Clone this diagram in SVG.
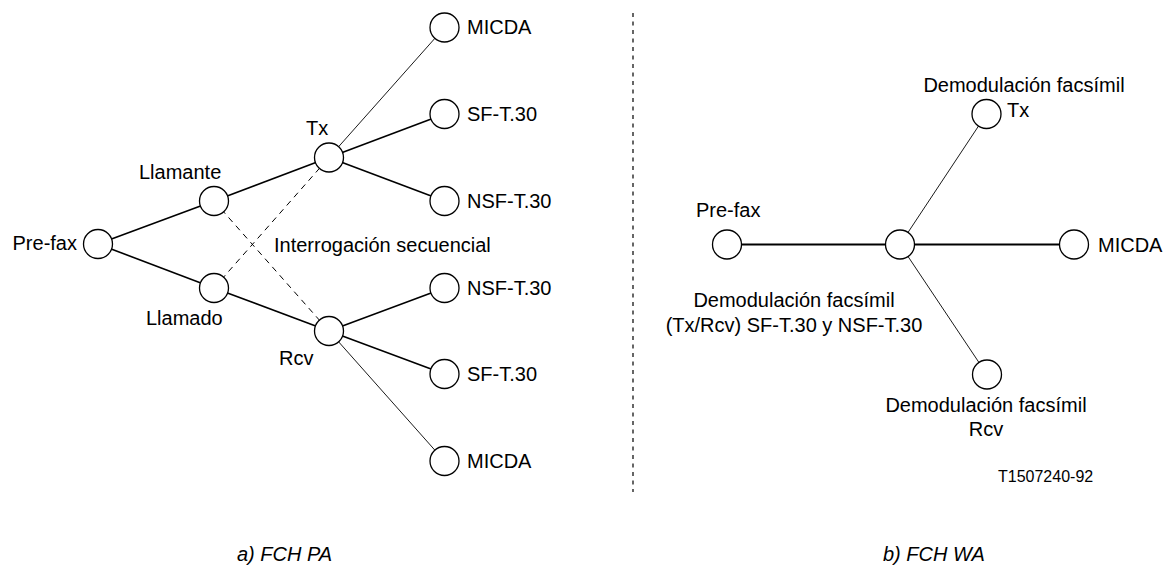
<svg xmlns="http://www.w3.org/2000/svg" width="1168" height="567" viewBox="0 0 1168 567">
<style>
text{font-family:"Liberation Sans",Arial,sans-serif;font-size:20px;fill:#000}
.cap{font-style:italic}
.small{font-size:16px}
.n{fill:#fff;stroke:#000;stroke-width:1.3}
.thick{stroke:#000;stroke-width:1.6;fill:none}
.thin{stroke:#000;stroke-width:0.9;fill:none}
.dash{stroke:#000;stroke-width:1;stroke-dasharray:6 5;fill:none}
.sep{stroke:#000;stroke-width:1.2;stroke-dasharray:4 4.5;fill:none}
</style>
<rect width="1168" height="567" fill="#fff"/>
<g id="connectors">
<line class="thick" x1="98" y1="244" x2="214" y2="201"/>
<line class="thick" x1="98" y1="244" x2="214" y2="288"/>
<line class="thick" x1="214" y1="201" x2="329" y2="157.5"/>
<line class="thick" x1="214" y1="288" x2="329" y2="331"/>
<line class="dash" x1="214" y1="201" x2="329" y2="331"/>
<line class="dash" x1="214" y1="288" x2="329" y2="157.5"/>
<line class="thin" x1="329" y1="157.5" x2="444.5" y2="27.5"/>
<line class="thick" x1="329" y1="157.5" x2="444.5" y2="114"/>
<line class="thick" x1="329" y1="157.5" x2="444.5" y2="201"/>
<line class="thick" x1="329" y1="331" x2="444.5" y2="288"/>
<line class="thick" x1="329" y1="331" x2="444.5" y2="374"/>
<line class="thin" x1="329" y1="331" x2="444.5" y2="461"/>
<line class="sep" x1="633" y1="13" x2="633" y2="492"/>
<line class="thick" x1="727" y1="244.5" x2="900" y2="244.5" style="stroke-width:2"/>
<line class="thick" x1="900" y1="244.5" x2="1074" y2="244.5" style="stroke-width:2"/>
<line class="thin" x1="900" y1="244.5" x2="986.5" y2="114"/>
<line class="thin" x1="900" y1="244.5" x2="987" y2="374.5"/>
</g>
<g id="prefax-a"><circle class="n" cx="98" cy="244" r="14.5"/><text x="77" y="250" text-anchor="end">Pre-fax</text></g>
<g id="llamante"><circle class="n" cx="214" cy="201" r="14.5"/><text x="139" y="179">Llamante</text></g>
<g id="llamado"><circle class="n" cx="214" cy="288" r="14.5"/><text x="146" y="325">Llamado</text></g>
<g id="tx"><circle class="n" cx="329" cy="157.5" r="14.5"/><text x="306" y="135">Tx</text></g>
<g id="rcv"><circle class="n" cx="329" cy="331" r="14.5"/><text x="279" y="365">Rcv</text></g>
<g id="interrogacion"><text x="274" y="252">Interrogación secuencial</text></g>
<g id="tx-micda"><circle class="n" cx="444.5" cy="27.5" r="14.5"/><text x="467" y="34">MICDA</text></g>
<g id="tx-sf"><circle class="n" cx="444.5" cy="114" r="14.5"/><text x="467" y="121">SF-T.30</text></g>
<g id="tx-nsf"><circle class="n" cx="444.5" cy="201" r="14.5"/><text x="467" y="208">NSF-T.30</text></g>
<g id="rcv-nsf"><circle class="n" cx="444.5" cy="288" r="14.5"/><text x="467" y="295">NSF-T.30</text></g>
<g id="rcv-sf"><circle class="n" cx="444.5" cy="374" r="14.5"/><text x="467" y="381">SF-T.30</text></g>
<g id="rcv-micda"><circle class="n" cx="444.5" cy="461" r="14.5"/><text x="467" y="468">MICDA</text></g>
<g id="prefax-b"><circle class="n" cx="727" cy="244.5" r="14.5"/><text x="696" y="217">Pre-fax</text></g>
<g id="demod-center"><circle class="n" cx="900" cy="244.5" r="14.5"/><text x="794" y="307" text-anchor="middle">Demodulación facsímil</text><text x="794" y="332" text-anchor="middle">(Tx/Rcv) SF-T.30 y NSF-T.30</text></g>
<g id="micda-b"><circle class="n" cx="1074" cy="244.5" r="14.5"/><text x="1098" y="252">MICDA</text></g>
<g id="demod-tx"><circle class="n" cx="986.5" cy="114" r="14.5"/><text x="1024" y="92" text-anchor="middle">Demodulación facsímil</text><text x="1007" y="117">Tx</text></g>
<g id="demod-rcv"><circle class="n" cx="987" cy="374.5" r="14.5"/><text x="986" y="412" text-anchor="middle">Demodulación facsímil</text><text x="986" y="436" text-anchor="middle">Rcv</text></g>
<g id="ref"><text class="small" x="998" y="482">T1507240-92</text></g>
<g id="captions"><text class="cap" x="237" y="561">a) FCH PA</text><text class="cap" x="883" y="561">b) FCH WA</text></g>
</svg>
